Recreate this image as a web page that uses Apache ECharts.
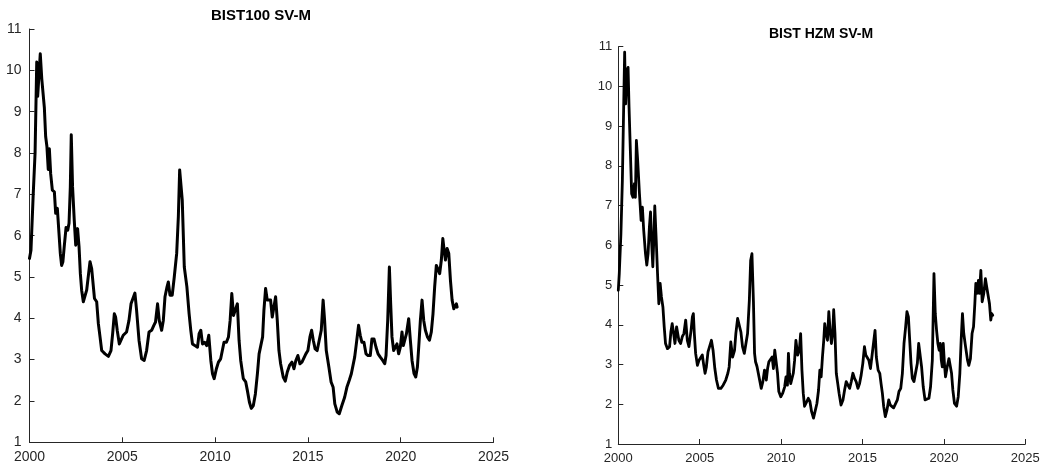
<!DOCTYPE html>
<html>
<head>
<meta charset="utf-8">
<script src="https://cdn.jsdelivr.net/npm/echarts@6/dist/echarts.min.js"></script>
<style>html,body{margin:0;padding:0;background:#fff}#c{width:1043px;height:469px}</style>
</head>
<body>
<div id="c"></div>
<script>
var titles = ['BIST100 SV-M', 'BIST HZM SV-M'];
var xTicks = [2000, 2005, 2010, 2015, 2020, 2025];

var bistYears = [2000.0,2000.08,2000.2,2000.3,2000.39,2000.44,2000.51,2000.58,2000.66,2000.75,2000.8,2000.87,2000.94,2001.01,2001.07,2001.14,2001.23,2001.34,2001.41,2001.5,2001.59,2001.66,2001.73,2001.8,2001.87,2001.97,2002.06,2002.13,2002.2,2002.25,2002.32,2002.41,2002.49,2002.54,2002.59,2002.67,2002.74,2002.81,2002.9,2002.99,2003.08,2003.17,2003.26,2003.35,2003.44,2003.5,2003.62,2003.71,2003.8,2003.89,2004.07,2004.25,2004.39,2004.48,2004.57,2004.64,2004.73,2004.84,2004.96,2005.05,2005.23,2005.36,2005.47,2005.56,2005.68,2005.77,2005.9,2006.04,2006.18,2006.31,2006.44,2006.58,2006.7,2006.79,2006.9,2006.99,2007.12,2007.21,2007.3,2007.41,2007.48,2007.57,2007.69,2007.8,2007.93,2008.02,2008.09,2008.16,2008.23,2008.34,2008.48,2008.6,2008.69,2008.78,2008.91,2009.05,2009.14,2009.23,2009.32,2009.44,2009.55,2009.66,2009.77,2009.86,2009.95,2010.07,2010.18,2010.3,2010.39,2010.48,2010.61,2010.72,2010.81,2010.9,2010.99,2011.08,2011.2,2011.29,2011.38,2011.52,2011.65,2011.74,2011.85,2011.95,2012.06,2012.17,2012.28,2012.37,2012.46,2012.56,2012.63,2012.72,2012.81,2012.9,2012.99,2013.08,2013.17,2013.26,2013.35,2013.44,2013.53,2013.67,2013.78,2013.89,2014.01,2014.14,2014.25,2014.35,2014.46,2014.57,2014.68,2014.78,2014.89,2015.0,2015.11,2015.2,2015.29,2015.39,2015.5,2015.61,2015.72,2015.82,2015.9,2015.99,2016.13,2016.25,2016.36,2016.45,2016.58,2016.69,2016.83,2016.98,2017.1,2017.23,2017.34,2017.43,2017.52,2017.61,2017.73,2017.82,2017.91,2018.02,2018.13,2018.24,2018.36,2018.45,2018.56,2018.67,2018.78,2018.9,2019.03,2019.14,2019.21,2019.3,2019.39,2019.46,2019.53,2019.62,2019.71,2019.8,2019.89,2019.98,2020.07,2020.14,2020.22,2020.31,2020.43,2020.52,2020.61,2020.72,2020.81,2020.9,2020.97,2021.06,2021.15,2021.24,2021.33,2021.44,2021.55,2021.65,2021.74,2021.83,2021.92,2022.01,2022.1,2022.19,2022.27,2022.34,2022.41,2022.5,2022.59,2022.68,2022.77,2022.86,2022.95,2023.0,2023.04];
var bistVals = [5.45,5.65,7.0,8.0,10.2,9.37,9.4,10.4,9.8,9.77,9.1,8.4,8.15,7.6,8.1,7.5,7.1,7.06,6.54,6.66,6.05,5.57,5.28,5.37,5.73,6.2,6.13,6.3,7.18,8.44,7.18,6.38,5.77,5.73,6.17,5.73,5.08,4.68,4.4,4.44,4.68,4.72,5.37,5.2,5.16,4.48,4.4,3.87,3.55,3.22,3.14,3.08,3.22,3.63,4.11,4.03,3.7,3.38,3.5,3.59,3.67,3.95,4.35,4.31,4.61,4.19,3.47,3.02,2.98,3.22,3.67,3.71,3.83,3.91,4.35,3.95,3.71,3.95,4.52,4.76,4.88,4.56,4.56,5.0,5.57,6.46,7.59,7.55,6.86,5.24,4.76,4.11,3.71,3.38,3.34,3.3,3.63,3.71,3.38,3.42,3.34,3.59,2.98,2.66,2.54,2.78,2.94,3.02,3.22,3.42,3.42,3.55,3.95,4.6,4.07,4.11,4.35,3.47,2.98,2.54,2.46,2.25,1.97,1.82,1.89,2.17,2.66,3.14,3.18,3.55,4.19,4.72,4.44,4.48,4.44,4.03,3.99,4.52,3.95,3.22,2.9,2.58,2.48,2.7,2.86,2.94,2.78,2.98,3.1,2.9,2.94,2.98,3.14,3.22,3.55,3.71,3.47,3.26,3.22,3.47,3.71,4.44,3.95,3.22,2.82,2.46,2.33,1.93,1.73,1.69,1.89,2.09,2.33,2.5,2.66,2.7,3.06,3.38,3.83,3.59,3.42,3.42,3.14,3.1,3.1,3.5,3.5,3.3,3.14,3.06,2.98,2.9,3.1,3.95,5.24,4.35,3.55,3.22,3.18,3.38,3.14,3.3,3.67,3.34,3.38,3.63,3.99,3.47,2.98,2.66,2.58,2.82,3.3,3.95,4.44,3.95,3.71,3.55,3.47,3.67,4.11,4.76,5.28,5.24,5.08,5.41,5.93,5.65,5.41,5.69,5.57,4.92,4.44,4.23,4.23,4.35,4.27];

var hzmYears = [2000.0,2000.06,2000.16,2000.25,2000.33,2000.39,2000.45,2000.53,2000.6,2000.66,2000.74,2000.82,2000.9,2000.99,2001.05,2001.11,2001.19,2001.3,2001.4,2001.48,2001.56,2001.67,2001.75,2001.83,2001.91,2001.98,2002.04,2002.12,2002.18,2002.24,2002.33,2002.41,2002.49,2002.57,2002.65,2002.74,2002.82,2002.9,2003.02,2003.15,2003.23,2003.31,2003.4,2003.48,2003.58,2003.66,2003.72,2003.83,2003.93,2004.03,2004.14,2004.24,2004.34,2004.47,2004.55,2004.61,2004.67,2004.75,2004.86,2004.96,2005.06,2005.16,2005.25,2005.33,2005.41,2005.51,2005.62,2005.72,2005.82,2005.93,2006.03,2006.15,2006.3,2006.44,2006.6,2006.73,2006.81,2006.91,2007.02,2007.14,2007.22,2007.33,2007.43,2007.53,2007.63,2007.74,2007.84,2007.94,2008.05,2008.13,2008.21,2008.3,2008.37,2008.43,2008.52,2008.6,2008.68,2008.78,2008.88,2008.98,2009.09,2009.17,2009.25,2009.35,2009.45,2009.53,2009.61,2009.7,2009.78,2009.86,2009.98,2010.1,2010.22,2010.3,2010.39,2010.45,2010.51,2010.59,2010.67,2010.75,2010.83,2010.91,2011.02,2011.12,2011.2,2011.28,2011.36,2011.44,2011.56,2011.67,2011.77,2011.87,2011.99,2012.09,2012.2,2012.3,2012.38,2012.46,2012.54,2012.62,2012.68,2012.76,2012.85,2012.93,2013.01,2013.09,2013.17,2013.23,2013.31,2013.39,2013.48,2013.56,2013.68,2013.8,2013.9,2014.0,2014.11,2014.21,2014.31,2014.41,2014.51,2014.61,2014.72,2014.82,2014.92,2015.02,2015.12,2015.2,2015.28,2015.39,2015.49,2015.59,2015.69,2015.77,2015.85,2015.96,2016.06,2016.14,2016.22,2016.3,2016.4,2016.5,2016.61,2016.71,2016.81,2016.91,2017.01,2017.14,2017.24,2017.35,2017.45,2017.55,2017.65,2017.73,2017.82,2017.9,2017.98,2018.06,2018.16,2018.27,2018.37,2018.45,2018.55,2018.63,2018.73,2018.84,2018.96,2019.08,2019.18,2019.29,2019.39,2019.47,2019.55,2019.63,2019.71,2019.78,2019.84,2019.9,2019.96,2020.04,2020.1,2020.2,2020.31,2020.41,2020.47,2020.55,2020.65,2020.78,2020.88,2020.98,2021.06,2021.14,2021.22,2021.33,2021.45,2021.53,2021.63,2021.73,2021.82,2021.9,2021.96,2022.04,2022.12,2022.18,2022.27,2022.35,2022.45,2022.55,2022.63,2022.71,2022.8,2022.88,2022.94,2023.0];
var hzmVals = [4.87,5.29,6.29,7.63,9.48,10.86,9.56,10.4,10.48,9.48,8.39,7.3,7.21,7.55,7.21,8.64,8.14,7.3,6.63,6.96,6.38,5.79,5.5,5.79,6.46,6.84,6.13,5.46,6.13,6.99,6.13,5.29,4.53,5.04,4.7,4.45,3.95,3.53,3.4,3.45,3.82,4.03,3.78,3.53,3.95,3.99,3.61,3.53,3.7,3.78,4.12,3.61,3.45,3.86,4.2,4.28,3.78,3.28,2.98,3.11,3.11,3.24,2.98,2.78,2.94,3.32,3.32,3.61,3.36,2.9,2.61,2.4,2.4,2.48,2.61,2.78,2.94,3.57,3.19,3.36,3.78,4.16,4.12,3.82,3.45,3.28,3.53,3.78,4.62,5.62,5.79,4.6,3.28,3.07,2.95,2.78,2.61,2.4,2.57,2.86,2.61,2.9,3.07,3.11,3.19,2.9,3.36,3.4,2.78,2.32,2.19,2.28,2.44,2.69,2.48,3.28,2.78,2.52,2.48,2.78,3.11,3.61,3.24,3.36,3.78,2.86,2.28,1.95,1.91,2.15,2.07,1.82,1.65,1.69,2.02,2.36,2.86,2.69,3.19,3.61,4.03,3.78,3.61,4.33,3.86,3.53,3.78,4.38,3.78,2.78,2.52,2.28,1.98,2.11,2.36,2.57,2.52,2.4,2.57,2.78,2.65,2.57,2.4,2.52,2.74,3.03,3.45,3.24,3.24,3.11,2.9,3.24,3.28,3.86,3.19,2.86,2.78,2.52,2.28,1.95,1.69,1.85,2.11,1.98,1.95,1.91,1.95,2.11,2.32,2.4,2.78,3.53,3.95,4.33,4.2,3.61,3.03,2.65,2.57,2.61,3.03,3.53,3.49,2.94,2.44,2.11,2.15,2.15,2.44,3.11,5.29,4.28,3.86,3.53,3.36,3.53,3.11,2.94,3.53,2.98,2.69,2.94,3.15,3.11,2.78,2.36,2.02,1.95,2.19,2.78,3.61,4.28,3.78,3.45,3.11,2.98,3.15,3.78,3.95,4.53,5.04,4.79,5.12,4.79,5.37,4.58,4.79,5.16,4.95,4.95,4.53,4.12,4.28,4.24];

function zip(xs, ys) { return xs.map(function (x, i) { return [x, ys[i]]; }); }

var axisCol = '#262626';
function xAx(idx, fs) {
  return {
    type: 'value', gridIndex: idx, min: 2000, max: 2025, interval: 5,
    axisLine: { show: true, onZero: false, lineStyle: { color: axisCol, width: 1 } },
    axisTick: { show: true, inside: true, length: 5, lineStyle: { color: axisCol } },
    axisLabel: { color: axisCol, fontSize: fs, fontFamily: 'Liberation Sans, Arial, sans-serif', margin: 8,
      customValues: xTicks, formatter: function (v) { return String(v); } },
    splitLine: { show: false }
  };
}
function yAx(idx, fs, m) {
  return {
    type: 'value', gridIndex: idx, min: 1, max: 11, interval: 1,
    axisLine: { show: true, lineStyle: { color: axisCol, width: 1 } },
    axisTick: { show: true, inside: true, length: 5, lineStyle: { color: axisCol } },
    axisLabel: { color: axisCol, fontSize: fs, fontFamily: 'Liberation Sans, Arial, sans-serif', margin: m },
    splitLine: { show: false }
  };
}

var chart = echarts.init(document.getElementById('c'), null, { renderer: 'canvas' });
chart.setOption({
  animation: false,
  backgroundColor: '#fff',
  title: [
    { text: titles[0], left: 261, top: 8, textAlign: 'center', padding: 0,
      textStyle: { fontSize: 15, fontWeight: 'bold', color: '#000', fontFamily: 'Liberation Sans, Arial, sans-serif' } },
    { text: titles[1], left: 821, top: 27, textAlign: 'center', padding: 0,
      textStyle: { fontSize: 14, fontWeight: 'bold', color: '#000', fontFamily: 'Liberation Sans, Arial, sans-serif' } }
  ],
  grid: [
    { left: 29.5, top: 29, width: 464, height: 413.3, containLabel: false },
    { left: 618.3, top: 46.7, width: 407, height: 397.3, containLabel: false }
  ],
  xAxis: [xAx(0, 14), xAx(1, 13)],
  yAxis: [yAx(0, 14, 8), yAx(1, 13, 6)],
  series: [
    { type: 'line', xAxisIndex: 0, yAxisIndex: 0, data: zip(bistYears, bistVals), showSymbol: false,
      lineStyle: { color: '#000', width: 3, join: 'round', cap: 'round' }, smooth: false },
    { type: 'line', xAxisIndex: 1, yAxisIndex: 1, data: zip(hzmYears, hzmVals), showSymbol: false,
      lineStyle: { color: '#000', width: 2.8, join: 'round', cap: 'round' }, smooth: false }
  ]
});
</script>
</body>
</html>
